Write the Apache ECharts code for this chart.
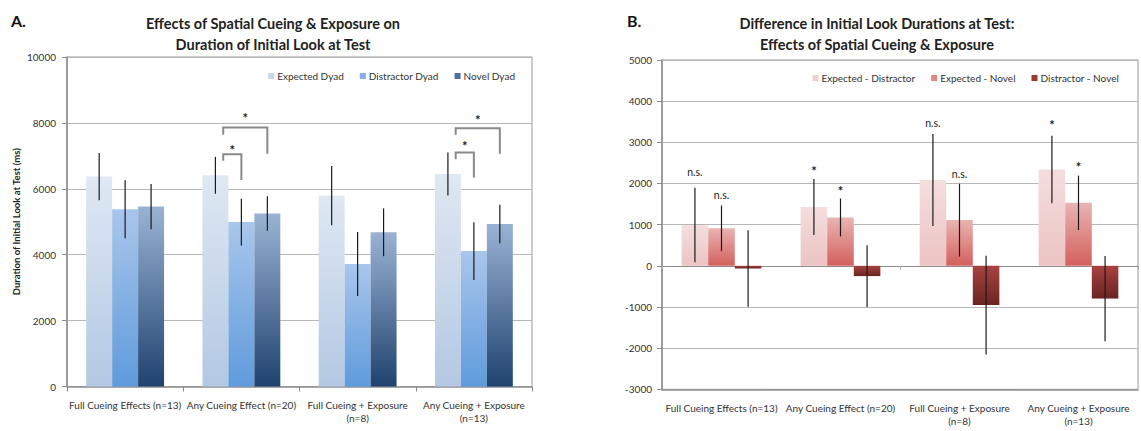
<!DOCTYPE html>
<html><head><meta charset="utf-8">
<script src="https://cdn.jsdelivr.net/npm/echarts@6/dist/echarts.min.js"></script>
<style>html,body{margin:0;padding:0;background:#fff}#c{width:1141px;height:431px}</style>
</head><body><div id="c"></div>
<script>
// ---------- DATA ----------
var categories = ['Full Cueing Effects (n=13)', 'Any Cueing Effect (n=20)', 'Full Cueing + Exposure\n(n=8)', 'Any Cueing + Exposure\n(n=13)'];
// Panel A
var seriesA = ['Expected Dyad', 'Distractor Dyad', 'Novel Dyad'];
var expected = [6370, 6410, 5790, 6450];
var expectedErr = [720, 560, 900, 650];
var distractor = [5380, 4990, 3720, 4110];
var distractorErr = [880, 710, 970, 875];
var novel = [5460, 5250, 4680, 4930];
var novelErr = [685, 525, 725, 585];
// brackets: [category, fromSeries, toSeries, topValue, leftLegEnd, rightLegEnd, starValue]
var brackets = [
  [1, 0, 1, 7050, 6850, 6270, 7280],
  [1, 0, 2, 7860, 7640, 7060, 8245],
  [3, 0, 1, 7100, 6900, 6340, 7384],
  [3, 0, 2, 7840, 7640, 7060, 8193]
];
var yTicksA = [0, 2000, 4000, 6000, 8000, 10000];
// Panel B
var seriesB = ['Expected - Distractor', 'Expected - Novel', 'Distractor - Novel'];
var expDist = [990, 1430, 2085, 2340];
var expDistErr = [905, 680, 1115, 820];
var expNovel = [910, 1175, 1110, 1530];
var expNovelErr = [555, 460, 885, 660];
var distNovel = [-65, -250, -955, -795];
var distNovelErr = [930, 750, 1200, 1035];
// significance labels: [category, seriesIndex, heightValue]
var sigPosB = [[0,0,2287],[0,1,1720],[1,0,2370],[1,1,1883],[2,0,3479],[2,1,2231],[3,0,3504],[3,1,2467]];
var sigTextB = ['n.s.', 'n.s.', '*', '*', 'n.s.', 'n.s.', '*', '*'];
var yTicksB = [-3000, -2000, -1000, 0, 1000, 2000, 3000, 4000, 5000];

// ---------- CHART ----------
var FONT = 'Lato';
var GAP = 0.33;
var chart = echarts.init(document.getElementById('c'), null, {renderer: 'svg'});

function grad(a, b) {
  return new echarts.graphic.LinearGradient(0, 0, 0, 1, [{offset: 0, color: a}, {offset: 1, color: b}]);
}
function errData(vals, errs) {
  return vals.map(function (v, i) { return [i, v - errs[i], v + errs[i]]; });
}
function errRender(sIdx, n) {
  return function (params, api) {
    var cat = api.value(0);
    var band = api.size([1, 0])[0];
    var bw = band * (1 - GAP) / n;
    var cx = api.coord([cat, 0])[0] + (sIdx - (n - 1) / 2) * bw;
    var y1 = api.coord([cat, api.value(2)])[1];
    var y2 = api.coord([cat, api.value(1)])[1];
    return {type: 'line', shape: {x1: cx, y1: y1, x2: cx, y2: y2}, style: {stroke: '#1a1a1a', lineWidth: 1.2}};
  };
}
function bracketRender(params, api) {
  var b = brackets[params.dataIndex];
  var cat = b[0];
  var band = api.size([1, 0])[0];
  var bw = band * (1 - GAP) / 3;
  var c0 = api.coord([cat, 0])[0];
  var xl = c0 + (b[1] - 1) * bw + 0.3 * bw;
  var xr = c0 + (b[2] - 1) * bw;
  var yt = api.coord([cat, b[3]])[1];
  var yl = api.coord([cat, b[4]])[1];
  var yr = api.coord([cat, b[5]])[1];
  var ys = api.coord([cat, b[6]])[1];
  return {type: 'group', children: [
    {type: 'polyline', shape: {points: [[xl, yl], [xl, yt], [xr, yt], [xr, yr]]}, style: {stroke: '#8a8a8a', lineWidth: 2, fill: null}},
    {type: 'text', style: {x: (xl + xr) / 2, y: ys + 3, text: '*', fill: '#222', font: 'bold 13px ' + FONT, align: 'center', verticalAlign: 'middle'}}
  ]};
}
function sigRender(params, api) {
  var s = sigPosB[params.dataIndex];
  var t = sigTextB[params.dataIndex];
  var band = api.size([1, 0])[0];
  var bw = band * (1 - GAP) / 3;
  var cx = api.coord([s[0], 0])[0] + (s[1] - 1) * bw;
  var y = api.coord([s[0], s[2]])[1];
  var isStar = t === '*';
  return {type: 'text', style: {x: cx, y: y + (isStar ? 3 : 0), text: t, fill: '#222',
    font: (isStar ? 'bold 13px ' : '10.5px ') + FONT, align: 'center', verticalAlign: 'middle'}};
}
function plain(v) { return String(v); }

var axisLabelStyle = {color: '#333', fontFamily: FONT, fontSize: 10};
var option = {
  animation: false,
  textStyle: {fontFamily: FONT},
  title: [
    {text: 'A.', left: 6, top: 7, textStyle: {fontSize: 16, fontWeight: 'bold', color: '#111', fontFamily: FONT}},
    {text: 'B.', left: 622, top: 7, textStyle: {fontSize: 16, fontWeight: 'bold', color: '#111', fontFamily: FONT}},
    {text: 'Effects of Spatial Cueing & Exposure on\nDuration of Initial Look at Test', left: 268, top: 8, textAlign: 'center',
      textStyle: {fontSize: 14.5, fontWeight: 'bold', color: '#222', lineHeight: 21, fontFamily: FONT}},
    {text: 'Difference in Initial Look Durations at Test:\nEffects of Spatial Cueing & Exposure', left: 872, top: 8, textAlign: 'center',
      textStyle: {fontSize: 14.5, fontWeight: 'bold', color: '#222', lineHeight: 21, fontFamily: FONT}}
  ],
  legend: [
    {right: 621, top: 66, itemWidth: 6, itemHeight: 6, itemGap: 16, icon: 'rect',
      textStyle: {fontSize: 10, color: '#333', fontFamily: FONT, padding: [0, 0, 0, -2]},
      data: [{name: seriesA[0], itemStyle: {color: '#c9d8ec'}}, {name: seriesA[1], itemStyle: {color: '#80b0e6'}}, {name: seriesA[2], itemStyle: {color: '#4d70a0'}}]},
    {right: 17, top: 68, itemWidth: 6, itemHeight: 6, itemGap: 16, icon: 'rect',
      textStyle: {fontSize: 10, color: '#333', fontFamily: FONT, padding: [0, 0, 0, -2]},
      data: [{name: seriesB[0], itemStyle: {color: '#f1cfcf'}}, {name: seriesB[1], itemStyle: {color: '#df8683'}}, {name: seriesB[2], itemStyle: {color: '#9a3935'}}]}
  ],
  grid: [
    {left: 67, top: 57, width: 465, height: 329.5, show: true, borderColor: '#999', borderWidth: 1, backgroundColor: 'transparent'},
    {left: 662, top: 60, width: 476, height: 329.3, show: true, borderColor: '#999', borderWidth: 1, backgroundColor: 'transparent'}
  ],
  xAxis: [
    {type: 'category', gridIndex: 0, data: categories,
      axisLine: {lineStyle: {color: '#8c8c8c', width: 1.5}},
      axisTick: {show: true, length: 5, lineStyle: {color: '#8c8c8c'}},
      axisLabel: Object.assign({margin: 12, lineHeight: 13, interval: 0}, axisLabelStyle)},
    {type: 'category', gridIndex: 1, data: categories,
      axisLine: {onZero: false, lineStyle: {color: '#8c8c8c', width: 1.5}},
      axisTick: {show: false},
      axisLabel: Object.assign({margin: 12, lineHeight: 13, interval: 0}, axisLabelStyle)},
    {type: 'category', gridIndex: 1, data: categories, position: 'bottom',
      axisLine: {onZero: true, lineStyle: {color: '#8c8c8c', width: 1}},
      axisTick: {show: true, length: 4, lineStyle: {color: '#aaa'}},
      axisLabel: {show: false}}
  ],
  yAxis: [
    {type: 'value', gridIndex: 0, min: yTicksA[0], max: yTicksA[yTicksA.length - 1], interval: yTicksA[1] - yTicksA[0],
      name: 'Duration of Initial Look at Test (ms)', nameLocation: 'middle', nameGap: 46, nameRotate: 90,
      nameTextStyle: {fontSize: 9.5, fontWeight: 'bold', color: '#222', fontFamily: FONT},
      axisLine: {show: true, lineStyle: {color: '#8c8c8c', width: 1.5}},
      axisTick: {show: true, length: 5, lineStyle: {color: '#8c8c8c'}},
      splitLine: {lineStyle: {color: '#b8b8b8', width: 1}},
      axisLabel: Object.assign({margin: 11, formatter: plain}, axisLabelStyle)},
    {type: 'value', gridIndex: 1, min: yTicksB[0], max: yTicksB[yTicksB.length - 1], interval: yTicksB[1] - yTicksB[0],
      axisLine: {show: true, lineStyle: {color: '#8c8c8c', width: 1.5}},
      axisTick: {show: true, length: 5, lineStyle: {color: '#8c8c8c'}},
      splitLine: {lineStyle: {color: '#b8b8b8', width: 1}},
      axisLabel: Object.assign({margin: 10, formatter: plain}, axisLabelStyle)}
  ],
  series: [
    {name: seriesA[0], type: 'bar', xAxisIndex: 0, yAxisIndex: 0, data: expected, barGap: '0%', barCategoryGap: '33%', itemStyle: {color: grad('#dfe8f3', '#b3c8e3')}},
    {name: seriesA[1], type: 'bar', xAxisIndex: 0, yAxisIndex: 0, data: distractor, barGap: '0%', barCategoryGap: '33%', itemStyle: {color: grad('#a9c6ec', '#5f9bdc')}},
    {name: seriesA[2], type: 'bar', xAxisIndex: 0, yAxisIndex: 0, data: novel, barGap: '0%', barCategoryGap: '33%', itemStyle: {color: grad('#9ab3d4', '#1f426f')}},
    {type: 'custom', xAxisIndex: 0, yAxisIndex: 0, data: errData(expected, expectedErr), renderItem: errRender(0, 3), z: 5},
    {type: 'custom', xAxisIndex: 0, yAxisIndex: 0, data: errData(distractor, distractorErr), renderItem: errRender(1, 3), z: 5},
    {type: 'custom', xAxisIndex: 0, yAxisIndex: 0, data: errData(novel, novelErr), renderItem: errRender(2, 3), z: 5},
    {type: 'custom', xAxisIndex: 0, yAxisIndex: 0, data: brackets.map(function (b) { return [b[0], b[3]]; }), renderItem: bracketRender, z: 6},

    {name: seriesB[0], type: 'bar', xAxisIndex: 1, yAxisIndex: 1, data: expDist, barGap: '0%', barCategoryGap: '33%', itemStyle: {color: grad('#f5dede', '#ecc3c3')}},
    {name: seriesB[1], type: 'bar', xAxisIndex: 1, yAxisIndex: 1, data: expNovel, barGap: '0%', barCategoryGap: '33%', itemStyle: {color: grad('#e9b4b2', '#d4605c')}},
    {name: seriesB[2], type: 'bar', xAxisIndex: 1, yAxisIndex: 1, data: distNovel, barGap: '0%', barCategoryGap: '33%', itemStyle: {color: grad('#a8433f', '#6a2422')}},
    {type: 'custom', xAxisIndex: 1, yAxisIndex: 1, data: errData(expDist, expDistErr), renderItem: errRender(0, 3), z: 5},
    {type: 'custom', xAxisIndex: 1, yAxisIndex: 1, data: errData(expNovel, expNovelErr), renderItem: errRender(1, 3), z: 5},
    {type: 'custom', xAxisIndex: 1, yAxisIndex: 1, data: errData(distNovel, distNovelErr), renderItem: errRender(2, 3), z: 5},
    {type: 'custom', xAxisIndex: 1, yAxisIndex: 1, data: sigPosB.map(function (s) { return [s[0], s[2]]; }), renderItem: sigRender, z: 6}
  ]
};
chart.setOption(option);
</script></body></html>
